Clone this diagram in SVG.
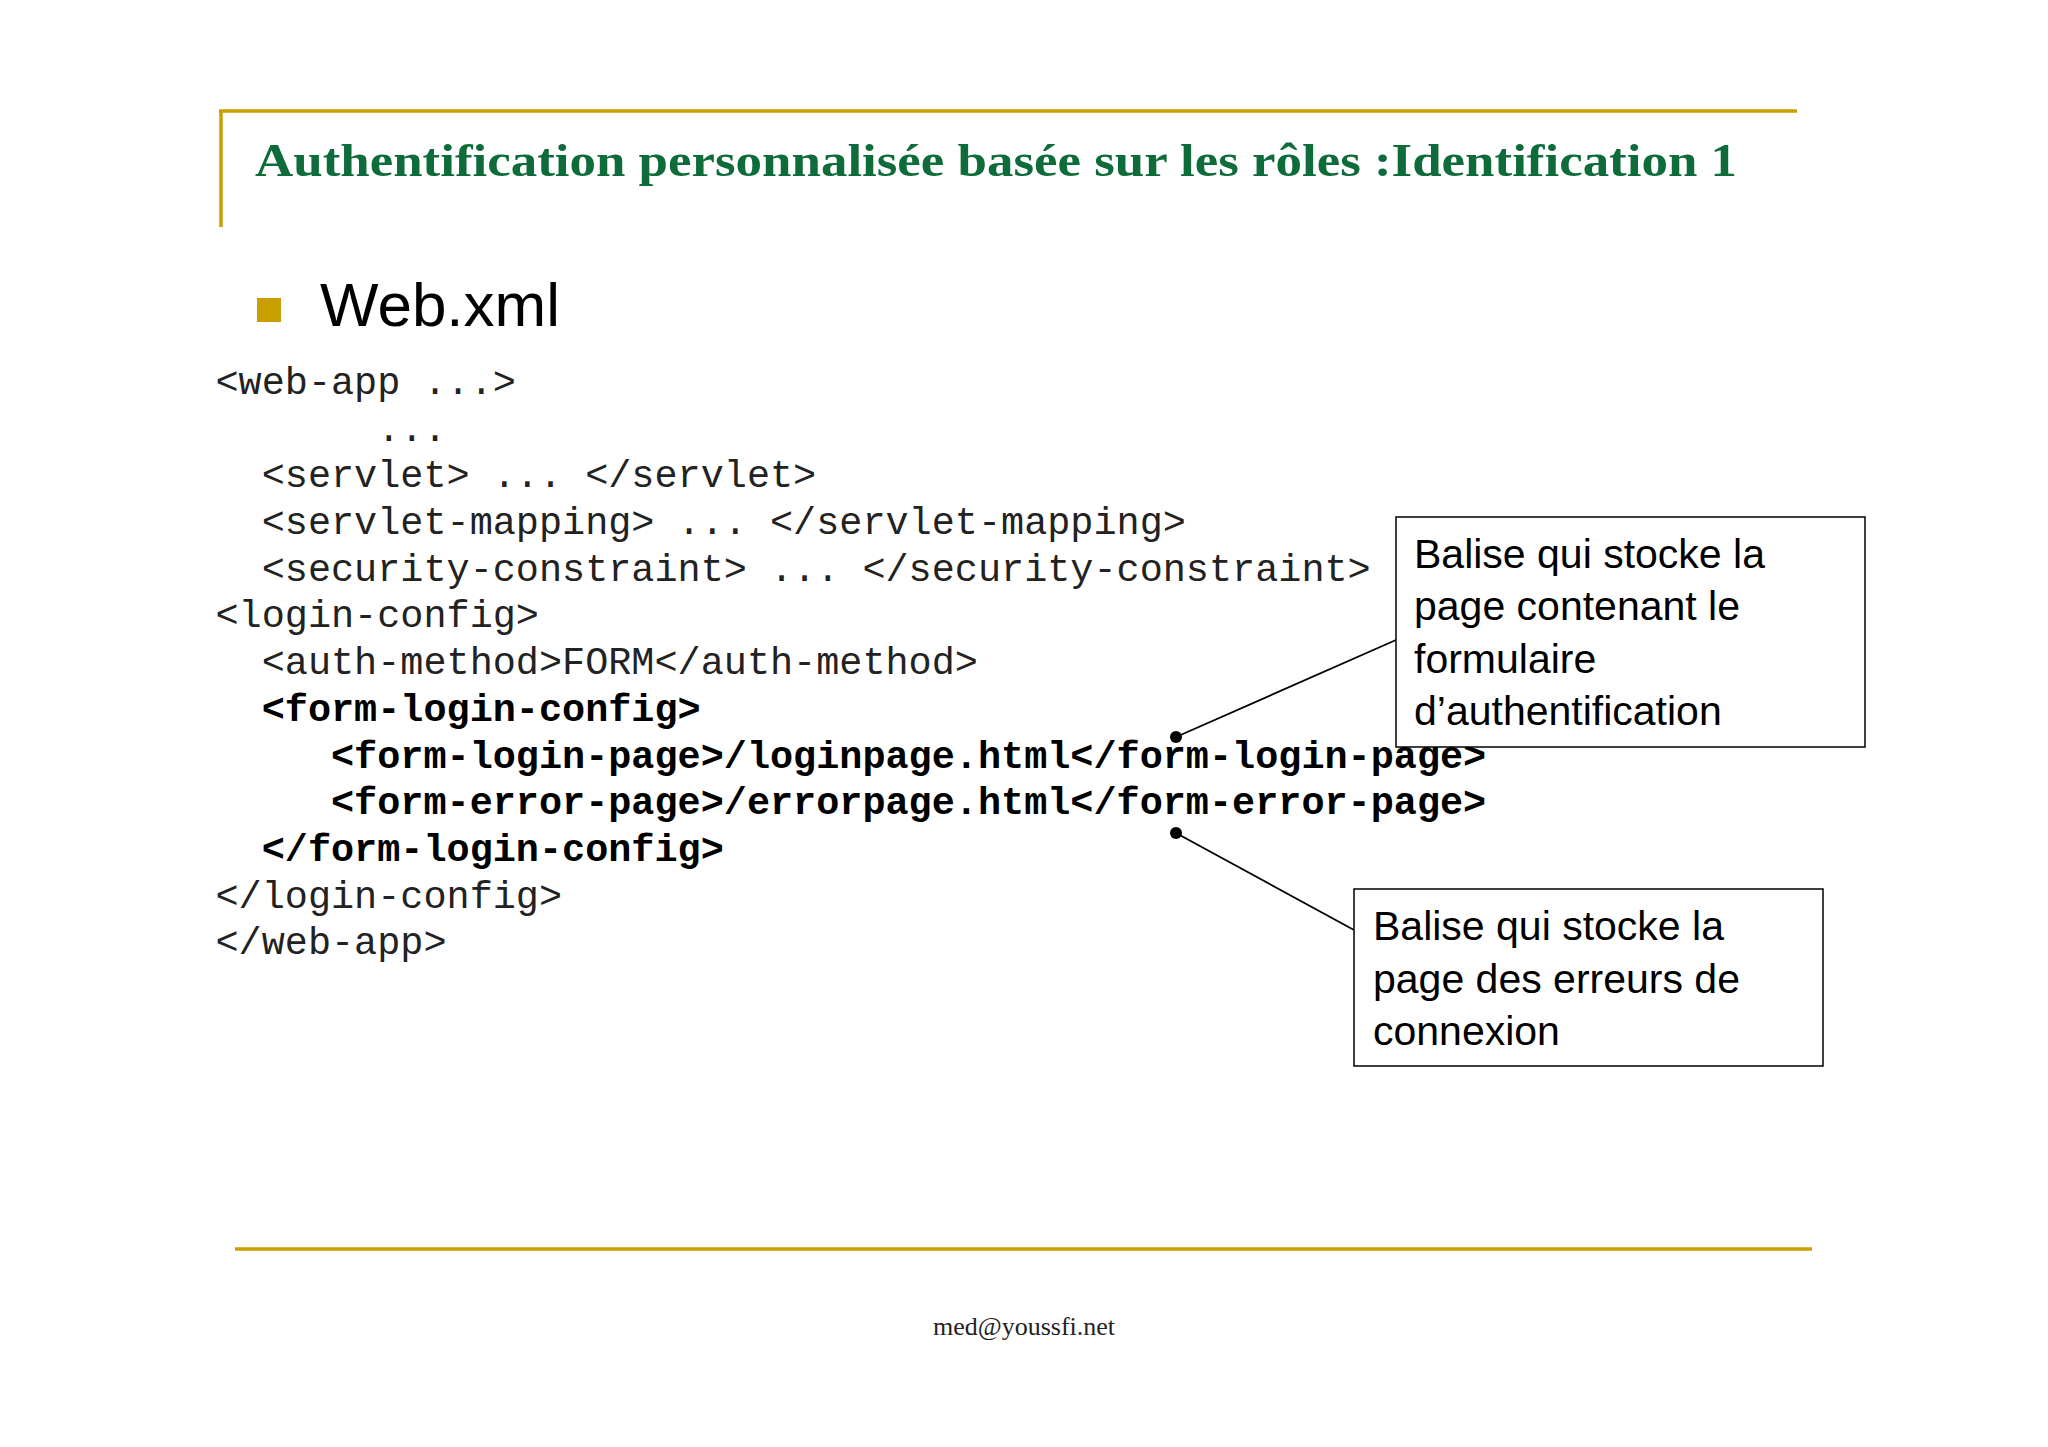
<svg xmlns="http://www.w3.org/2000/svg" width="2048" height="1447" viewBox="0 0 2048 1447">
<style>
.code{font-family:"Liberation Mono",monospace;font-size:38.5px;fill:#222;white-space:pre}
.b{font-weight:bold;fill:#000}
.note{font-family:"Liberation Sans",Arial,sans-serif;font-size:41px;fill:#000}
.box{fill:#fff;stroke:#000;stroke-width:1.5}
.gold{stroke:#C9A000;stroke-width:3.5}
</style>
<rect width="2048" height="1447" fill="#fff"/>
<line class="gold" x1="219" y1="111" x2="1797" y2="111"/>
<line class="gold" x1="221" y1="110" x2="221" y2="227"/>
<line class="gold" x1="235" y1="1249" x2="1812" y2="1249"/>
<text x="255" y="176" font-family="Liberation Serif,serif" font-weight="bold" font-size="47" fill="#0E6B3A" textLength="1482" lengthAdjust="spacingAndGlyphs">Authentification personnalisée basée sur les rôles :Identification 1</text>
<rect x="257" y="298" width="24" height="24" fill="#C9A000"/>
<text x="320" y="326" font-family="Liberation Sans,Arial,sans-serif" font-size="62" fill="#000">Web.xml</text>
<g id="code">
<text class="code" x="215.5" y="394">&lt;web-app ...&gt;</text>
<text class="code" x="215.5" y="441">       ...</text>
<text class="code" x="215.5" y="487">  &lt;servlet&gt; ... &lt;/servlet&gt;</text>
<text class="code" x="215.5" y="534">  &lt;servlet-mapping&gt; ... &lt;/servlet-mapping&gt;</text>
<text class="code" x="215.5" y="581">  &lt;security-constraint&gt; ... &lt;/security-constraint&gt;</text>
<text class="code" x="215.5" y="627">&lt;login-config&gt;</text>
<text class="code" x="215.5" y="674">  &lt;auth-method&gt;FORM&lt;/auth-method&gt;</text>
<text class="code b" x="215.5" y="721">  &lt;form-login-config&gt;</text>
<text class="code b" x="215.5" y="768">     &lt;form-login-page&gt;/loginpage.html&lt;/form-login-page&gt;</text>
<text class="code b" x="215.5" y="814">     &lt;form-error-page&gt;/errorpage.html&lt;/form-error-page&gt;</text>
<text class="code b" x="215.5" y="861">  &lt;/form-login-config&gt;</text>
<text class="code" x="215.5" y="908">&lt;/login-config&gt;</text>
<text class="code" x="215.5" y="954">&lt;/web-app&gt;</text>
</g>
<g id="connectors" stroke="#000" stroke-width="1.8">
<line x1="1176" y1="737" x2="1396" y2="640"/>
<line x1="1176" y1="833" x2="1354" y2="930"/>
<circle cx="1176" cy="737" r="6" fill="#000" stroke="none"/>
<circle cx="1176" cy="833" r="6" fill="#000" stroke="none"/>
</g>
<g id="note1">
<rect class="box" x="1396" y="517" width="469" height="230"/>
<text class="note" x="1414" y="568">Balise qui stocke la</text>
<text class="note" x="1414" y="620">page contenant le</text>
<text class="note" x="1414" y="673">formulaire</text>
<text class="note" x="1414" y="725">d’authentification</text>
</g>
<g id="note2">
<rect class="box" x="1354" y="889" width="469" height="177"/>
<text class="note" x="1373" y="940">Balise qui stocke la</text>
<text class="note" x="1373" y="993">page des erreurs de</text>
<text class="note" x="1373" y="1045">connexion</text>
</g>
<text x="1024" y="1335" text-anchor="middle" font-family="Liberation Serif,serif" font-size="26" fill="#222">med@youssfi.net</text>
</svg>
